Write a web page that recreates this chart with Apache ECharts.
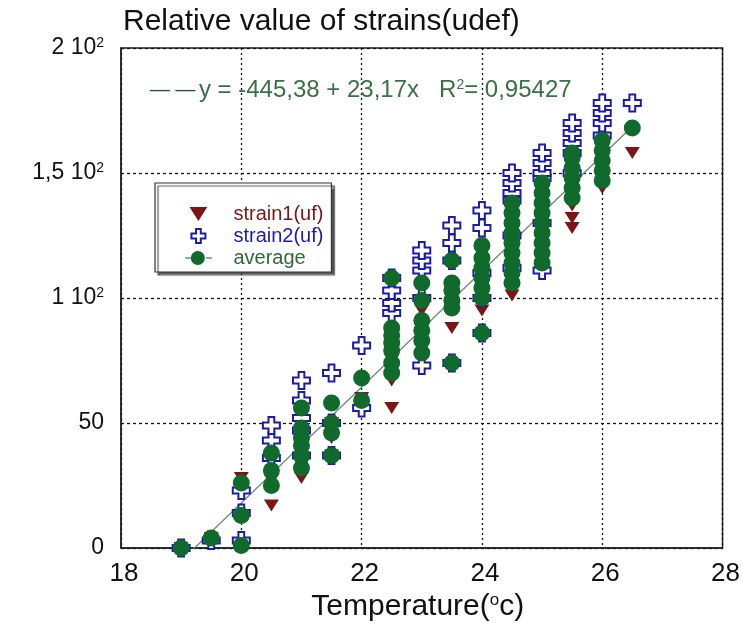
<!DOCTYPE html>
<html>
<head>
<meta charset="utf-8">
<script src="https://cdn.jsdelivr.net/npm/echarts@6/dist/echarts.min.js"></script>
<style>html,body{margin:0;padding:0;background:#fff;}#c{width:743px;height:634px;}</style>
</head>
<body>
<div id="c"></div>
<script>
// ---- data ----
const temps = [19, 19.5, 20, 20.5, 21, 21.5, 22, 22.5, 23, 23.5, 24, 24.5, 25, 25.5, 26, 26.5];
const strain1 = [
  [0], [4], [1, 12, 28], [17, 27, 35], [28, 33, 40, 45], [37, 44, 50], [57, 60],
  [56, 67, 75, 82], [72, 80, 88, 95], [73, 88, 98, 104], [85, 95, 104, 112],
  [101, 104, 110, 118], [112, 120, 128, 136], [128, 132, 137, 142], [144, 148, 152], [158]
];
const strain2 = [
  [0], [3], [3, 14, 23], [36, 43, 49], [37, 47, 52, 59, 67], [37, 50, 70], [56, 81],
  [94, 98, 103, 108], [73, 100, 111, 115, 119], [74, 115, 122, 129], [86, 100, 110, 128, 135],
  [112, 125, 139, 142, 146, 150], [111, 130, 148, 150, 154, 158], [150, 158, 162, 166, 170],
  [165, 170, 174, 178], [178]
];
const average = [
  [0], [4], [1, 13, 26], [25, 31, 38], [32, 37, 41, 44, 48, 56], [37, 46, 50, 58], [59, 68],
  [70, 74, 79, 82, 85, 88, 108], [78, 83, 87, 91, 99, 106], [74, 96, 99, 103, 106, 115],
  [86, 100, 104, 108, 112, 116, 121], [106, 110, 114, 118, 122, 126, 130, 134, 138],
  [114, 118, 122, 126, 130, 134, 138, 142, 146], [140, 144, 148, 152, 156, 158],
  [147, 151, 155, 159, 163], [168]
];
const fitIntercept = -445.38;
const fitSlope = 23.17;
const fitEquation = 'y = -445,38 + 23,17x   R';
const fitR2 = '= 0,95427';
const yTickLabels = { 0: '0', 50: '50', 100: '1 10{s|2}', 150: '1,5 10{s|2}', 200: '2 10{s|2}' };

// ---- build ----
function toPoints(groups) {
  const pts = [];
  groups.forEach((vals, i) => vals.forEach(v => pts.push([temps[i], v])));
  return pts;
}
const fitLine = [temps[0], temps[temps.length - 1]].map(x => [x, fitIntercept + fitSlope * x]);

const FONT = 'Liberation Sans, Arial, sans-serif';
const RED = '#7d1515';
const BLUE = '#1c1ca8';
const GREEN = '#0f6a2c';
const CROSS = 'path://M3.3,0 H6.7 V3.3 H10 V6.7 H6.7 V10 H3.3 V6.7 H0 V3.3 H3.3 Z';
const TRI = 'path://M0,0 H14 L7,11 Z';
const AVG_ICON = 'path://M0,5.5 H5 V6.5 H0 Z M18,5.5 H23 V6.5 H18 Z M11,0 A6,6 0 1,1 10.99,0 Z';

const chart = echarts.init(document.getElementById('c'), null, { renderer: 'canvas' });
chart.setOption({
  animation: false,
  backgroundColor: '#fff',
  title: {
    text: 'Relative value of strains(udef)',
    left: 118, top: 2,
    textStyle: { fontFamily: FONT, fontSize: 30, fontWeight: 'normal', color: '#111' }
  },
  grid: { left: 121, right: 19, top: 48, bottom: 86, show: true, borderColor: '#222', borderWidth: 1.5, backgroundColor: 'transparent' },
  legend: {
    orient: 'vertical',
    left: 155, top: 183,
    padding: [21, 8, 4, 30],
    itemWidth: 60, itemHeight: 14, itemGap: 2,
    backgroundColor: '#fff',
    borderColor: '#333', borderWidth: 1.2,
    shadowColor: 'rgba(60,60,60,0.85)', shadowBlur: 1, shadowOffsetX: 3, shadowOffsetY: 3,
    textStyle: { fontFamily: FONT, fontSize: 20 },
    selectedMode: false,
    data: [
      { name: 'strain1(uf)', icon: TRI, textStyle: { color: RED } },
      { name: 'strain2(uf)', icon: CROSS, textStyle: { color: BLUE } },
      { name: 'average', icon: AVG_ICON, textStyle: { color: '#2f6a35' } }
    ]
  },
  xAxis: {
    type: 'value', min: 18, max: 28, interval: 2,
    name: 'Temperature({sup|o}c)',
    nameLocation: 'middle', nameGap: 40,
    nameTextStyle: {
      fontFamily: FONT, fontSize: 30, color: '#111', padding: [0, 8, 0, 0],
      rich: { sup: { fontFamily: FONT, fontSize: 17, color: '#111', verticalAlign: 'top', padding: [0, 0, 12, 0] } }
    },
    axisLine: { show: true, lineStyle: { color: '#222', width: 1.5 } },
    axisTick: { show: false },
    axisLabel: { fontFamily: FONT, fontSize: 26, color: '#111', margin: 13, padding: [0, 0, 0, 6] },
    splitLine: { show: true, lineStyle: { color: '#111', type: [2, 3], width: 1.3 } }
  },
  yAxis: {
    type: 'value', min: 0, max: 200, interval: 50,
    axisLine: { show: true, lineStyle: { color: '#222', width: 1.5 } },
    axisTick: { show: false },
    axisLabel: {
      fontFamily: FONT, fontSize: 23, color: '#111', margin: 17,
      formatter: v => yTickLabels[v] !== undefined ? yTickLabels[v] : '',
      rich: { s: { fontFamily: FONT, fontSize: 14, color: '#111', verticalAlign: 'top', padding: [0, 0, 10, 0] } }
    },
    splitLine: { show: true, lineStyle: { color: '#111', type: [3, 3], width: 1.3 } }
  },
  graphic: [{
    type: 'text', left: 150, top: 78, z: 100,
    style: {
      text: '{d|— —} {t|' + fitEquation + '}{s|2}{t|' + fitR2 + '}',
      rich: {
        d: { fontFamily: FONT, fontSize: 20, fill: '#1f5a2a' },
        t: { fontFamily: FONT, fontSize: 24, fill: '#3a7045' },
        s: { fontFamily: FONT, fontSize: 14, fill: '#3a7045', verticalAlign: 'top', padding: [0, 0, 10, 0] }
      }
    }
  }],
  series: [
    {
      name: 'fit', type: 'line', data: fitLine, symbol: 'none', clip: true, z: 1,
      lineStyle: { color: '#6a8a74', width: 1.3 }, silent: true
    },
    {
      name: 'strain1(uf)', type: 'scatter', data: toPoints(strain1), symbol: TRI, symbolSize: [15, 12], z: 2,
      itemStyle: { color: RED, opacity: 1 }
    },
    {
      name: 'strain2(uf)', type: 'scatter', data: toPoints(strain2), symbol: CROSS, symbolSize: 17, z: 3,
      itemStyle: { color: '#fff', borderColor: BLUE, borderWidth: 2, opacity: 1 }
    },
    {
      name: 'average', type: 'scatter', data: toPoints(average), symbol: 'circle', symbolSize: 17, z: 4,
      itemStyle: { color: GREEN, opacity: 1 }
    }
  ]
});
</script>
</body>
</html>
